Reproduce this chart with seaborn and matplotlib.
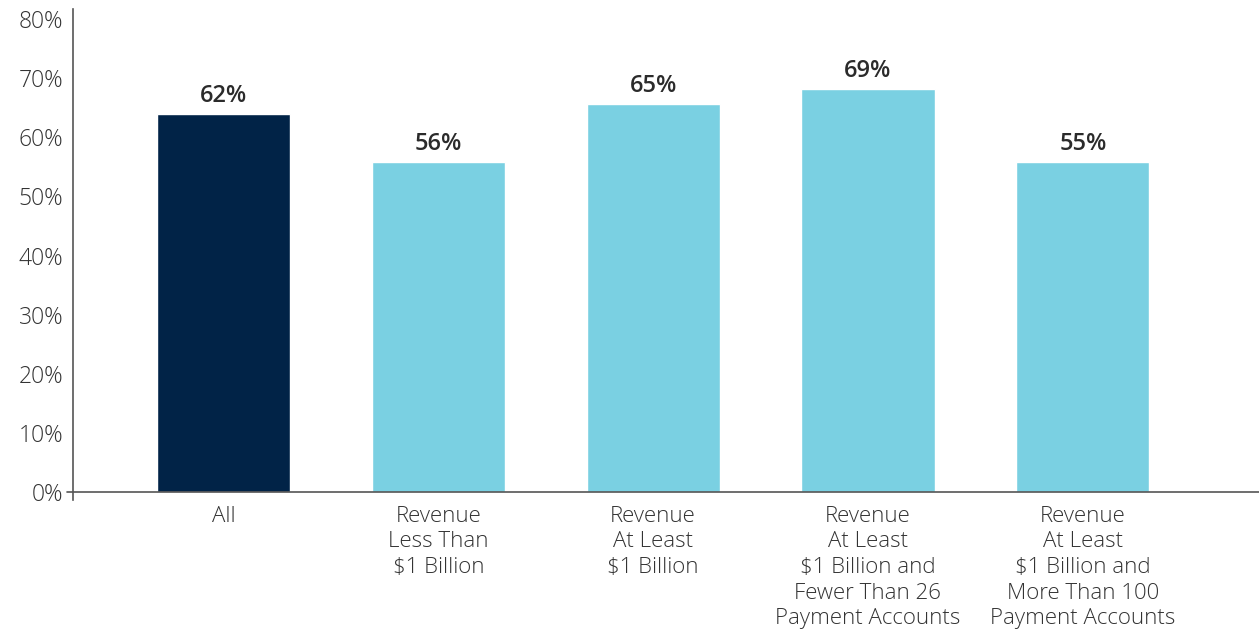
import matplotlib
matplotlib.use("Agg")
import matplotlib.pyplot as plt
import seaborn as sns
import pandas as pd

categories = ["All",
              "Revenue\nLess Than\n$1 Billion",
              "Revenue\nAt Least\n$1 Billion",
              "Revenue\nAt Least\n$1 Billion and\nFewer Than 26\nPayment Accounts",
              "Revenue\nAt Least\n$1 Billion and\nMore Than 100\nPayment Accounts"]
# bar heights as drawn in the picture, and the printed labels
heights = [64.0, 55.9, 65.6, 68.2, 55.9]
value_labels = ["62%", "56%", "65%", "69%", "55%"]
bar_colors = ["#012347", "#7ad0e2", "#7ad0e2", "#7ad0e2", "#7ad0e2"]
yticks = [0, 10, 20, 30, 40, 50, 60, 70, 80]

df = pd.DataFrame({"cat": categories, "val": heights})

sns.set_style("white")
plt.rcParams["font.family"] = ["Open Sans", "DejaVu Sans"]

fig = plt.figure(figsize=(12.59, 6.33), dpi=100)
ax = fig.add_axes([0.058, 0.21, 0.942, 0.776])

sns.barplot(data=df, x="cat", y="val", hue="cat", palette=bar_colors,
            width=0.62, legend=False, ax=ax, saturation=1)

for i, (h, lab) in enumerate(zip(heights, value_labels)):
  ax.text(i, h + 1.0, lab, ha="center", va="bottom", fontsize=17,
          fontweight="semibold", color="#2b2b2b")

ax.set_xlim(-0.70, 4.82)
ax.set_ylim(-1.3, 81.7)
ax.set_yticks(yticks)
ax.set_yticklabels([str(t) + "%" for t in yticks], fontsize=16.5,
                   fontweight="light", color="#333333")
ax.set_xticks(range(len(categories)))
ax.set_xticklabels(categories, fontsize=16, fontweight="light",
                   color="#333333", linespacing=1.29, va="top")
ax.tick_params(axis="y", length=0, pad=7)
ax.tick_params(axis="x", length=0, pad=4)
ax.set_xlabel("")
ax.set_ylabel("")

for s in ["top", "right", "bottom"]:
  ax.spines[s].set_visible(False)
ax.spines["left"].set_color("#555555")
ax.spines["left"].set_linewidth(1.2)
ax.axhline(0, xmin=-0.005, xmax=1, color="#555555", linewidth=1.2,
           clip_on=False)

fig.savefig("out.png", dpi=100)
plt.close()
